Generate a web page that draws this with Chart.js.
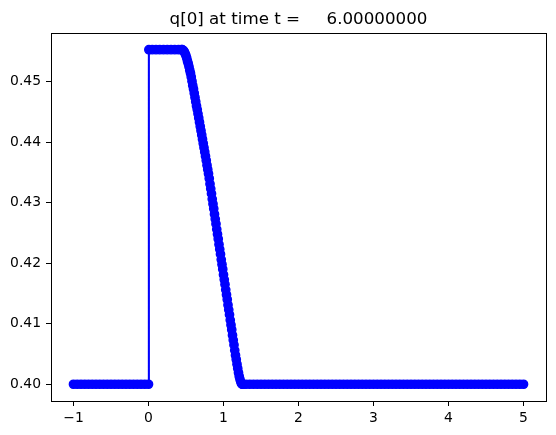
<!DOCTYPE html>
<html>
<head>
<meta charset="utf-8">
<title>q[0] at time t = 6.00000000</title>
<script src="https://cdn.jsdelivr.net/npm/chart.js@4.4.1/dist/chart.umd.min.js"></script>
<style>
  html, body { margin: 0; padding: 0; background: #fff; }
  #wrap { width: 556px; height: 435px; position: relative; }
</style>
</head>
<body>
<div id="wrap"><canvas id="qChart"></canvas></div>
<script>
// x positions and q[0] values, piece by piece
var leftX = [-1, -0.95, -0.9, -0.85, -0.8, -0.75, -0.7, -0.65, -0.6, -0.55, -0.5,
  -0.45, -0.4, -0.35, -0.3, -0.25, -0.2, -0.15, -0.1, -0.05, 0];
var leftQ = [0.4, 0.4, 0.4, 0.4, 0.4, 0.4, 0.4, 0.4, 0.4, 0.4, 0.4,
  0.4, 0.4, 0.4, 0.4, 0.4, 0.4, 0.4, 0.4, 0.4, 0.4];

var plateauX = [0.005, 0.05, 0.1, 0.15, 0.2, 0.25, 0.3, 0.35, 0.4, 0.44];
var plateauQ = [0.4553, 0.4553, 0.4553, 0.4553, 0.4553, 0.4553, 0.4553, 0.4553, 0.4553, 0.4553];

var slopeX = [0.45, 0.46, 0.47, 0.48, 0.49, 0.5, 0.51, 0.52, 0.53, 0.54,
  0.55, 0.56, 0.57, 0.58, 0.59, 0.6, 0.61, 0.62, 0.63, 0.64,
  0.65, 0.66, 0.67, 0.68, 0.69, 0.7, 0.71, 0.72, 0.73, 0.74,
  0.75, 0.76, 0.77, 0.78, 0.79, 0.8, 0.81, 0.82, 0.83, 0.84,
  0.85, 0.86, 0.87, 0.88, 0.89, 0.9, 0.91, 0.92, 0.93, 0.94,
  0.95, 0.96, 0.97, 0.98, 0.99, 1, 1.01, 1.02, 1.03, 1.04,
  1.05, 1.06, 1.07, 1.08, 1.09, 1.1, 1.11, 1.12, 1.13, 1.14,
  1.15, 1.16, 1.17, 1.18, 1.19, 1.2, 1.21, 1.22, 1.23, 1.24,
  1.25, 1.26];
var slopeQ = [0.4553, 0.4552, 0.4551, 0.4549, 0.4546, 0.4543, 0.4539, 0.4534, 0.4530, 0.4525,
  0.4519, 0.4514, 0.4508, 0.4501, 0.4494, 0.4488, 0.4481, 0.4474, 0.4467, 0.4460,
  0.4454, 0.4447, 0.4440, 0.4433, 0.4426, 0.4419, 0.4412, 0.4405, 0.4398, 0.4391,
  0.4384, 0.4377, 0.4370, 0.4362, 0.4355, 0.4348, 0.4340, 0.4331, 0.4323, 0.4315,
  0.4306, 0.4298, 0.4290, 0.4281, 0.4273, 0.4265, 0.4256, 0.4248, 0.4240, 0.4231,
  0.4223, 0.4215, 0.4206, 0.4198, 0.4190, 0.4181, 0.4173, 0.4165, 0.4156, 0.4148,
  0.4140, 0.4131, 0.4123, 0.4115, 0.4106, 0.4098, 0.4090, 0.4081, 0.4073, 0.4065,
  0.4056, 0.4048, 0.4041, 0.4033, 0.4026, 0.4019, 0.4013, 0.4008, 0.4004, 0.4001,
  0.4000, 0.4000];

var rightX = [1.3, 1.35, 1.4, 1.45, 1.5, 1.55, 1.6, 1.65, 1.7, 1.75, 1.8, 1.85, 1.9, 1.95, 2,
  2.05, 2.1, 2.15, 2.2, 2.25, 2.3, 2.35, 2.4, 2.45, 2.5, 2.55, 2.6, 2.65, 2.7, 2.75,
  2.8, 2.85, 2.9, 2.95, 3, 3.05, 3.1, 3.15, 3.2, 3.25, 3.3, 3.35, 3.4, 3.45, 3.5,
  3.55, 3.6, 3.65, 3.7, 3.75, 3.8, 3.85, 3.9, 3.95, 4, 4.05, 4.1, 4.15, 4.2, 4.25,
  4.3, 4.35, 4.4, 4.45, 4.5, 4.55, 4.6, 4.65, 4.7, 4.75, 4.8, 4.85, 4.9, 4.95, 5];
var rightQ = [0.4, 0.4, 0.4, 0.4, 0.4, 0.4, 0.4, 0.4, 0.4, 0.4, 0.4, 0.4, 0.4, 0.4, 0.4,
  0.4, 0.4, 0.4, 0.4, 0.4, 0.4, 0.4, 0.4, 0.4, 0.4, 0.4, 0.4, 0.4, 0.4, 0.4,
  0.4, 0.4, 0.4, 0.4, 0.4, 0.4, 0.4, 0.4, 0.4, 0.4, 0.4, 0.4, 0.4, 0.4, 0.4,
  0.4, 0.4, 0.4, 0.4, 0.4, 0.4, 0.4, 0.4, 0.4, 0.4, 0.4, 0.4, 0.4, 0.4, 0.4,
  0.4, 0.4, 0.4, 0.4, 0.4, 0.4, 0.4, 0.4, 0.4, 0.4, 0.4, 0.4, 0.4, 0.4, 0.4];

// tick labels
var xTicks = [-1, 0, 1, 2, 3, 4, 5];
var yTicks = [0.40, 0.41, 0.42, 0.43, 0.44, 0.45];
var titleText = "q[0] at time t =     6.00000000";

var allX = leftX.concat(plateauX, slopeX, rightX);
var allQ = leftQ.concat(plateauQ, slopeQ, rightQ);
var points = [];
for (var i = 0; i < allX.length; i++) {
  points.push({ x: allX[i], y: allQ[i] });
}

var font = "'DejaVu Sans', sans-serif";

// matplotlib style frame + title
var framePlugin = {
  id: "frame",
  afterDraw: function(chart) {
    var ctx = chart.ctx;
    var a = chart.chartArea;
    ctx.save();
    ctx.strokeStyle = "#000";
    ctx.lineWidth = 1;
    ctx.strokeRect(Math.round(a.left) + 0.5, Math.round(a.top) + 0.5,
      Math.round(a.right - a.left), Math.round(a.bottom - a.top));
    ctx.fillStyle = "#000";
    ctx.font = "16.7px " + font;
    ctx.textAlign = "center";
    ctx.textBaseline = "alphabetic";
    ctx.fillText(titleText, (a.left + a.right) / 2, 24);
    ctx.restore();
  }
};

var ctx = document.getElementById("qChart").getContext("2d");
var qChart = new Chart(ctx, {
  type: "scatter",
  data: {
    datasets: [{
      label: "q[0]",
      data: points,
      showLine: true,
      borderColor: "#0000ff",
      backgroundColor: "#0000ff",
      borderWidth: 2.08,
      pointRadius: 4.17,
      pointBorderWidth: 1.39,
      pointBackgroundColor: "#0000ff",
      pointBorderColor: "#0000ff",
      pointHoverRadius: 4.17
    }]
  },
  options: {
    responsive: true,
    maintainAspectRatio: false,
    animation: false,
    layout: { padding: { left: 0, right: 10, top: 33, bottom: 0 } },
    plugins: {
      legend: { display: false },
      title: { display: false },
      tooltip: { enabled: false }
    },
    scales: {
      x: {
        type: "linear",
        min: -1.3,
        max: 5.3,
        afterBuildTicks: function(scale) {
          scale.ticks = xTicks.map(function(v) { return { value: v }; });
        },
        afterFit: function(scale) { scale.height = 34; },
        border: { display: false },
        grid: { drawOnChartArea: false, drawTicks: true, tickLength: 5, tickColor: "#000", color: "#000" },
        ticks: {
          color: "#000",
          padding: 4,
          maxRotation: 0,
          font: { family: font, size: 13.9 },
          callback: function(v) { return v < 0 ? "\u2212" + Math.abs(v) : String(v); }
        }
      },
      y: {
        type: "linear",
        min: 0.39723,
        max: 0.45806,
        afterBuildTicks: function(scale) {
          scale.ticks = yTicks.map(function(v) { return { value: v }; });
        },
        afterFit: function(scale) { scale.width = 51; },
        border: { display: false },
        grid: { drawOnChartArea: false, drawTicks: true, tickLength: 5, tickColor: "#000", color: "#000" },
        ticks: {
          color: "#000",
          padding: 5,
          font: { family: font, size: 13.9 },
          callback: function(v) { return v.toFixed(2); }
        }
      }
    }
  },
  plugins: [framePlugin]
});
</script>
</body>
</html>
